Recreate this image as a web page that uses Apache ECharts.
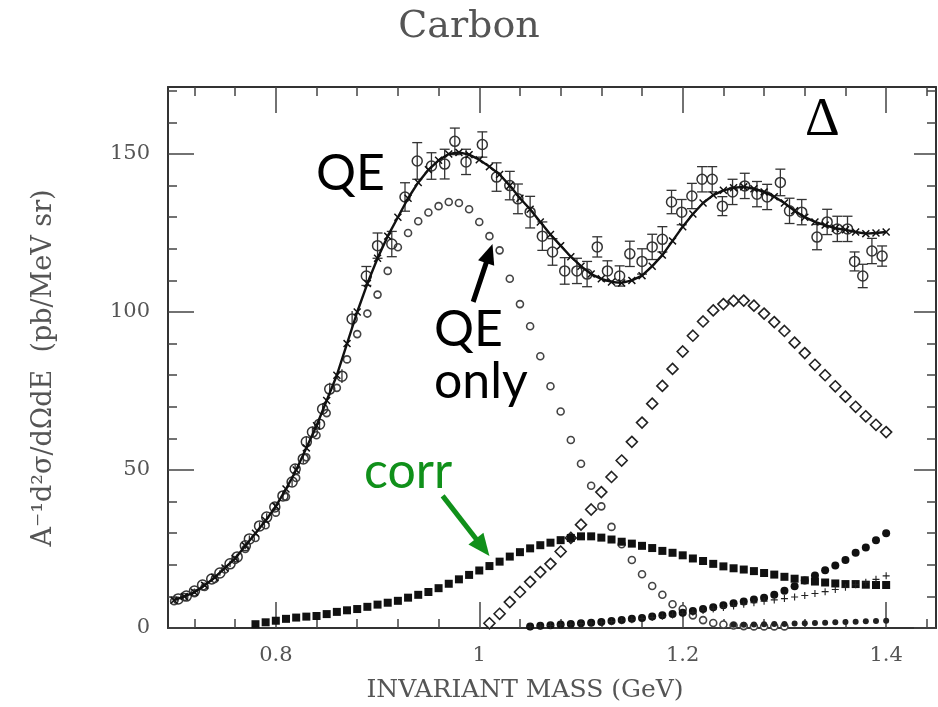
<!DOCTYPE html>
<html><head><meta charset="utf-8">
<script src="https://cdn.jsdelivr.net/npm/echarts@6/dist/echarts.min.js"></script>
<style>html,body{margin:0;padding:0;background:#fff}#c{width:938px;height:707px}</style>
</head><body><div id="c"></div>
<script>
// ---- axis ----
const xMajorTicks = [0.8, 1.0, 1.2, 1.4];
const xMinorTicks = [0.72, 0.76, 0.84, 0.88, 0.92, 0.96, 1.04, 1.08, 1.12, 1.16, 1.24, 1.28, 1.32, 1.36, 1.44];
const yMajorTicks = [0, 50, 100, 150];
const yMinorTicks = [10, 20, 30, 40, 60, 70, 80, 90, 110, 120, 130, 140, 160, 170];

// ---- model curves sampled on a common mass grid (GeV) ----
const massGrid = [0.70,0.71,0.72,0.73,0.74,0.75,0.76,0.77,0.78,0.79,0.80,0.81,0.82,0.83,0.84,0.85,0.86,0.87,0.88,0.89,
  0.90,0.91,0.92,0.93,0.94,0.95,0.96,0.97,0.98,0.99,1.00,1.01,1.02,1.03,1.04,1.05,1.06,1.07,1.08,1.09,
  1.10,1.11,1.12,1.13,1.14,1.15,1.16,1.17,1.18,1.19,1.20,1.21,1.22,1.23,1.24,1.25,1.26,1.27,1.28,1.29,
  1.30,1.31,1.32,1.33,1.34,1.35,1.36,1.37,1.38,1.39,1.40];

const totalModel = [8.8,10,11.3,13.5,16,19,22,26,30,34,38.5,44,50,57,64,72,80,90,100,109,
  117,124,130,136,141,145,148,150,150.5,149.8,148.2,146,143.5,140,136,132.5,128.5,124.5,121,117.5,
  114.5,112,110.5,109.5,109.2,110,111.5,114.5,118,122.5,127,131,134.5,137,138.5,139.3,139.6,139,138,136.5,
  134.5,132,130,128.5,127.5,126.5,126,125.3,124.8,125,125.3];

const qeOnly = [8.5,9.8,11,13,15.5,18.5,21.5,25,28.5,32.5,36.5,41.5,47.5,54,61,68,76,85,93,99.5,
  105.5,113,120.5,125,128.7,131.5,133.5,134.8,134.5,132.5,128.5,124,119.5,110.5,102.5,95.5,86,76.5,68.5,59.5,
  52,45,38.5,32,26.5,21.5,17,13.3,10.5,7.5,6,4,2.5,1.6,1.1,0.8,0.6,0.5,0.5,0.5,
  0.5,null,null,null,null,null,null,null,null,null,null];

const deltaOnly = [null,null,null,null,null,null,null,null,null,null,null,null,null,null,null,null,null,null,null,null,
  null,null,null,null,null,null,null,null,null,null,null,1.5,4.5,8.2,11.4,14.6,17.7,20.3,24.2,28.5,
  32.7,37.5,43,47.8,53,58.9,65,71,76.6,82,87.5,92.5,97,100.5,102.5,103.5,103.6,102,99.5,96.8,
  94,90.3,87,83.3,80,76.5,73.2,70,67,64.3,62];

const corr = [null,null,null,null,null,null,null,null,1.2,1.8,2.3,2.9,3.3,3.6,3.8,4.4,5.1,5.6,6,6.7,
  7.4,8,8.6,9.6,10.5,11.4,12.6,14,15.4,16.8,18.2,19.6,21,22.6,24,25.2,26.2,27,27.8,28.5,
  29,29,28.6,28,27.3,26.7,26,25.3,24.4,23.8,23,22,21.2,20.3,19.5,18.9,18.5,18,17.4,16.9,
  16.2,15.6,15.1,14.7,14.4,14.1,13.9,13.9,13.7,13.6,13.6];

const risingDots = [null,null,null,null,null,null,null,null,null,null,null,null,null,null,null,null,null,null,null,null,
  null,null,null,null,null,null,null,null,null,null,null,null,null,null,null,0.5,0.7,0.9,1.1,1.3,
  1.5,1.7,1.9,2.2,2.5,2.9,3.2,3.6,4,4.4,4.8,5.4,6,6.6,7.2,7.8,8.4,9,9.6,10.5,
  11.8,13.2,15,16.6,18.3,19.8,21.5,23.8,25.5,27.8,30];

const plusCurve = [null,null,null,null,null,null,null,null,null,null,null,null,null,null,null,null,null,null,null,null,
  null,null,null,null,null,null,null,null,null,null,null,null,null,null,null,0.4,0.6,0.8,1,1.2,
  1.4,1.6,1.8,2,2.3,2.6,3,3.3,3.7,4.1,4.5,5,5.5,6,6.5,7,7.5,8,8.5,8.9,
  9.3,9.8,10.3,10.9,11.5,12.2,12.9,13.7,14.5,15.4,16.5];

const lowDots = [null,null,null,null,null,null,null,null,null,null,null,null,null,null,null,null,null,null,null,null,
  null,null,null,null,null,null,null,null,null,null,null,null,null,null,null,null,null,null,null,null,
  null,null,null,null,null,null,null,null,null,null,null,null,null,null,null,1.0,1.0,1.1,1.2,1.3,
  1.3,1.4,1.5,1.6,1.7,1.8,1.9,2.0,2.1,2.2,2.3];

// ---- measured data with error bars ----
const dataMass = [0.704,0.712,0.720,0.728,0.737,0.745,0.755,0.762,0.770,0.774,0.784,0.791,0.799,0.807,0.816,0.819,0.827,0.830,0.836,0.843,
  0.846,0.853,0.865,0.875,0.889,0.900,0.914,0.927,0.939,0.953,0.966,0.976,0.987,1.003,1.017,1.030,1.038,1.050,1.062,1.072,
  1.084,1.096,1.106,1.116,1.126,1.138,1.148,1.160,1.170,1.180,1.189,1.199,1.209,1.219,1.229,1.239,1.249,1.261,1.273,1.283,
  1.296,1.305,1.317,1.332,1.342,1.352,1.362,1.369,1.377,1.386,1.396];
const dataValue = [9.2,10.1,11.7,13.6,15.5,17.4,20.3,22.5,26,28.2,32.3,35.1,38.3,41.8,46.2,50.3,53.5,58.9,62,64.5,
  69.3,75.6,79.7,97.8,111.4,121,121.5,136.4,147.8,146.2,146.8,154,147.5,153,142.7,140,135.8,131.6,124,119,
  113,113,112,120.6,113,111.4,118.4,116,120.6,123,134.8,131.6,136.7,142,142,133.5,138,139.9,137.3,136.4,
  141,132,131.6,123.7,128.5,126.3,126.3,116,111.4,119.3,117.7];
const dataError = [0.8,0.8,0.8,0.8,0.9,0.9,1,1,1.1,1.1,1.2,1.2,1.3,1.3,1.4,1.5,1.5,1.6,1.7,1.8,
  1.9,2,2.2,2.5,3,4,4,4.5,5.8,4.2,4.7,4.2,4,4,4.5,4.5,4.7,5,4.5,4.2,
  4.2,4,4,3.2,3.2,3.2,4,4,4,4,3.7,4,4,4,4,3,4,4,4,4,
  4.2,4,4,4,4,4,4,3,3.7,4,3.2];

// ---- build ----
const X_MIN = 0.694, X_MAX = 1.449, Y_MIN = 0, Y_MAX = 171.2;
function pairs(arr){ const out=[]; massGrid.forEach((m,i)=>{ if(arr[i]!=null) out.push([m,arr[i]]); }); return out; }
const dataPts = dataMass.map((m,i)=>[m, dataValue[i], dataError[i]]);

const X_PATH = 'path://M0,1.3 L1.3,0 L5,3.7 L8.7,0 L10,1.3 L6.3,5 L10,8.7 L8.7,10 L5,6.3 L1.3,10 L0,8.7 L3.7,5 Z';
const PLUS_PATH = 'path://M4.2,0 H5.8 V4.2 H10 V5.8 H5.8 V10 H4.2 V5.8 H0 V4.2 H4.2 Z';

const axisCol = '#333';
function xAx(pos, ticks, len, labels){
  return {type:'value', position:pos, min:X_MIN, max:X_MAX,
    axisLine:{show:!!labels || pos==='top' && len>20, onZero:false, lineStyle:{color:axisCol, width:2}},
    axisTick:{show:true, inside:true, length:len, customValues:ticks, lineStyle:{color:'#444', width:1.5}},
    axisLabel:labels ? {show:true, customValues:ticks, fontFamily:'DejaVu Serif', fontSize:21, color:'#555', margin:17,
      formatter:v=> (Math.abs(v-1)<1e-9 ? '1' : String(+v.toFixed(2)))} : {show:false},
    splitLine:{show:false}};
}
function yAx(pos, ticks, len, labels){
  return {type:'value', position:pos, min:Y_MIN, max:Y_MAX,
    axisLine:{show:!!labels || pos==='right' && len>20, onZero:false, lineStyle:{color:axisCol, width:2}},
    axisTick:{show:true, inside:true, length:len, customValues:ticks, lineStyle:{color:'#444', width:1.5}},
    axisLabel:labels ? {show:true, customValues:ticks, fontFamily:'DejaVu Serif', fontSize:21, color:'#555', margin:18} : {show:false},
    splitLine:{show:false}};
}

const chart = echarts.init(document.getElementById('c'), null, {renderer:'canvas'});
chart.setOption({
  backgroundColor:'#fff',
  animation:false,
  grid:{left:168, top:87, width:768, height:541, containLabel:false},
  xAxis:[xAx('bottom', xMajorTicks, 26, true), xAx('bottom', xMinorTicks, 9, false),
         xAx('top', xMajorTicks, 26, false), xAx('top', xMinorTicks, 9, false)],
  yAxis:[yAx('left', yMajorTicks, 26, true), yAx('left', yMinorTicks, 9, false),
         yAx('right', yMajorTicks, 22, false), yAx('right', yMinorTicks, 9, false)],
  series:[
    {name:'QE only', type:'scatter', data:pairs(qeOnly), symbol:'circle', symbolSize:7,
      itemStyle:{color:'#fff', borderColor:'#444', borderWidth:1.6, opacity:1}, z:3},
    {name:'Delta', type:'scatter', data:pairs(deltaOnly), symbol:'diamond', symbolSize:11,
      itemStyle:{color:'#fff', borderColor:'#222', borderWidth:1.6, opacity:1}, z:3},
    {name:'corr', type:'scatter', data:pairs(corr), symbol:'rect', symbolSize:8,
      itemStyle:{color:'#111', opacity:1}, z:4},
    {name:'rising', type:'scatter', data:pairs(risingDots), symbol:'circle', symbolSize:8,
      itemStyle:{color:'#111', opacity:1}, z:4},
    {name:'plus', type:'scatter', data:pairs(plusCurve), symbol:PLUS_PATH, symbolSize:7,
      itemStyle:{color:'#222', opacity:1}, z:4},
    {name:'low', type:'scatter', data:pairs(lowDots), symbol:'circle', symbolSize:6,
      itemStyle:{color:'#222', opacity:1}, z:4},
    {name:'errors', type:'custom', data:dataPts, z:5,
      renderItem:(params, api)=>{
        const x=api.value(0), y=api.value(1), e=api.value(2);
        const t=api.coord([x,y+e]), b=api.coord([x,y-e]);
        const w = e>2.5 ? 5 : 0;
        const st={stroke:'#333', lineWidth:1.3};
        const ch=[{type:'line', shape:{x1:t[0],y1:t[1],x2:b[0],y2:b[1]}, style:st}];
        if(w){
          ch.push({type:'line', shape:{x1:t[0]-w,y1:t[1],x2:t[0]+w,y2:t[1]}, style:st});
          ch.push({type:'line', shape:{x1:b[0]-w,y1:b[1],x2:b[0]+w,y2:b[1]}, style:st});
        }
        return {type:'group', children:ch};
      }},
    {name:'data', type:'scatter', data:dataPts.map(d=>[d[0],d[1]]), symbol:'circle', symbolSize:10,
      itemStyle:{color:'rgba(255,255,255,0)', borderColor:'#333', borderWidth:1.5, opacity:1}, z:6},
    {name:'total', type:'line', data:pairs(totalModel), showSymbol:true, symbol:X_PATH, symbolSize:8,
      lineStyle:{color:'#111', width:2.4}, itemStyle:{color:'#111', opacity:1}, z:7}
  ]
});

function P(x,y){ return chart.convertToPixel({gridIndex:0}, [x,y]); }
function arrow(tail, tip, color, w, hl, hw){
  const dx=tip[0]-tail[0], dy=tip[1]-tail[1], L=Math.hypot(dx,dy), ux=dx/L, uy=dy/L;
  const bx=tip[0]-ux*hl, by=tip[1]-uy*hl, nx=-uy, ny=ux;
  return [
    {type:'line', shape:{x1:tail[0],y1:tail[1],x2:bx+ux*2,y2:by+uy*2}, style:{stroke:color, lineWidth:w}, z:20},
    {type:'polygon', shape:{points:[[tip[0],tip[1]],[bx+nx*hw/2,by+ny*hw/2],[bx-nx*hw/2,by-ny*hw/2]]}, style:{fill:color}, z:20}
  ];
}
const sans = 'Lato, "Open Sans", sans-serif';
const green = '#10901a';
const g = [
  {type:'text', left:'center', top:8, style:{text:'Carbon', font:'38px "DejaVu Serif"', fill:'#555'}, z:20},
  {type:'text', x:525, y:690, style:{text:'INVARIANT MASS (GeV)', font:'25px "DejaVu Serif"', fill:'#555', align:'center', verticalAlign:'middle'}, z:20},
  {type:'text', x:44, y:368, rotation:Math.PI/2, style:{text:'A\u207B\u00B9d\u00B2\u03C3/d\u03A9dE  (pb/MeV sr)', font:'27px "DejaVu Serif"', fill:'#555', align:'center', verticalAlign:'middle'}, z:20},
  {type:'text', x:316, y:174, style:{text:'QE', font:'50px '+sans, fill:'#000', align:'left', verticalAlign:'middle'}, z:20},
  {type:'text', x:434, y:330, style:{text:'QE', font:'50px '+sans, fill:'#000', align:'left', verticalAlign:'middle'}, z:20},
  {type:'text', x:434, y:382, style:{text:'only', font:'50px '+sans, fill:'#000', align:'left', verticalAlign:'middle'}, z:20},
  {type:'text', x:364, y:472, style:{text:'corr', font:'50px '+sans, fill:green, align:'left', verticalAlign:'middle'}, z:20},
  {type:'text', x:805, y:121, style:{text:'\u0394', font:'54px "Liberation Serif"', fill:'#000', align:'left', verticalAlign:'middle'}, z:20}
];
arrow(P(0.994,103.2), P(1.013,121.5), '#000', 5, 20, 17).forEach(e=>g.push(e));
arrow(P(0.964,41.8), P(1.010,22.8), green, 5, 22, 19).forEach(e=>g.push(e));
chart.setOption({graphic:g});
</script>
</body></html>
